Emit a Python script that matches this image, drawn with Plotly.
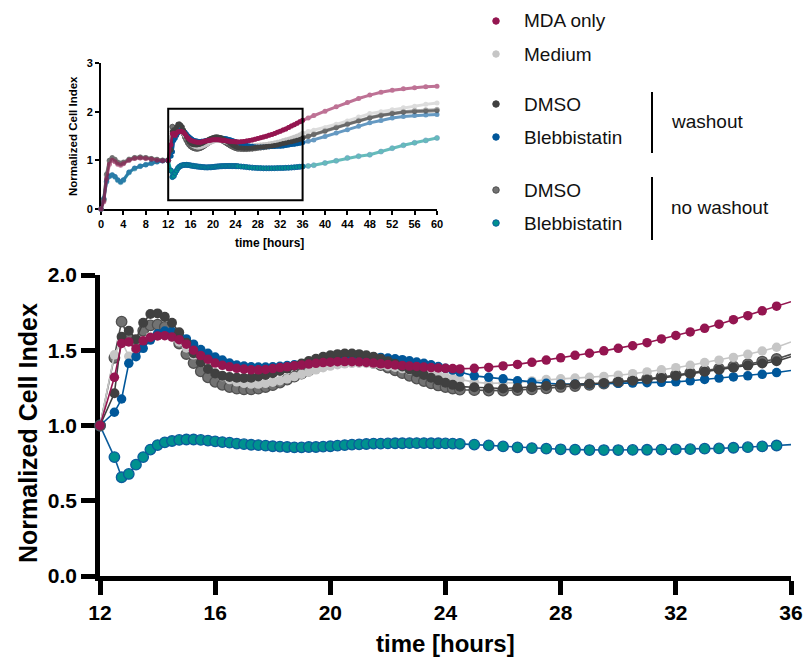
import plotly.graph_objects as go

# ---------------- data ----------------
T_EARLY = [0.0, 0.5, 1.0, 1.5, 2.0, 2.5, 3.0, 3.5, 4.0, 5.0, 6.0, 7.0, 8.0, 9.0, 10.0, 11.0]
T_MAIN = [12.0,
          12.5, 12.75, 13.0, 13.25, 13.5, 13.75, 14.0, 14.25, 14.5, 14.75,
          15.0, 15.25, 15.5, 15.75, 16.0, 16.25, 16.5, 16.75,
          17.0, 17.25, 17.5, 17.75, 18.0, 18.25, 18.5, 18.75,
          19.0, 19.25, 19.5, 19.75, 20.0, 20.25, 20.5, 20.75,
          21.0, 21.25, 21.5, 21.75, 22.0, 22.25, 22.5, 22.75,
          23.0, 23.25, 23.5, 23.75, 24.0, 24.25, 24.5,
          25.0, 25.5, 26.0, 26.5, 27.0, 27.5, 28.0, 28.5, 29.0, 29.5, 30.0,
          30.5, 31.0, 31.5, 32.0, 32.5, 33.0, 33.5, 34.0, 34.5, 35.0, 35.5,
          36.0]
T_LATE = [37.0, 38.0, 40.0, 42.0, 44.0, 46.0, 48.0, 50.0, 52.0, 54.0, 56.0, 58.0, 60.0]

# MDA only
MDA_EARLY = [0.0, 0.15, 0.62, 0.92, 1.0, 0.97, 0.92, 0.9, 0.93, 1.0, 1.04, 1.05, 1.04, 1.02, 1.0, 0.99]
MDA_MAIN = [1.00,
            1.32, 1.545, 1.555, 1.51, 1.563, 1.585, 1.595, 1.597, 1.588, 1.57,
            1.54, 1.50, 1.465, 1.44, 1.415, 1.40, 1.39, 1.38,
            1.375, 1.37, 1.37, 1.372, 1.378, 1.385, 1.39, 1.397,
            1.402, 1.408, 1.413, 1.418, 1.421, 1.424, 1.425, 1.424,
            1.422, 1.419, 1.415, 1.41, 1.406, 1.402, 1.398, 1.395,
            1.392, 1.388, 1.385, 1.382, 1.38, 1.378, 1.376,
            1.38, 1.386, 1.396, 1.406, 1.42, 1.435, 1.45, 1.466, 1.48, 1.496, 1.513,
            1.53, 1.55, 1.575, 1.598, 1.622, 1.646, 1.673, 1.703, 1.73, 1.762, 1.793,
            1.823]
MDA_LATE = [1.87, 1.92, 2.01, 2.1, 2.19, 2.27, 2.34, 2.4, 2.44, 2.47, 2.49, 2.51, 2.52]

# Medium
MED_EARLY = [0.0, 0.2, 0.7, 0.98, 1.05, 1.02, 0.97, 0.95, 0.97, 1.03, 1.06, 1.07, 1.06, 1.04, 1.02, 1.0]
MED_MAIN = [1.00,
            1.47, 1.56, 1.46, 1.50, 1.56, 1.59, 1.60, 1.60, 1.585, 1.555,
            1.515, 1.47, 1.425, 1.385, 1.35, 1.325, 1.305, 1.29,
            1.28, 1.275, 1.275, 1.28, 1.288, 1.298, 1.31, 1.325,
            1.34, 1.355, 1.37, 1.384, 1.395, 1.404, 1.41, 1.413,
            1.414, 1.412, 1.408, 1.402, 1.395, 1.387, 1.378, 1.369,
            1.36, 1.351, 1.342, 1.333, 1.323, 1.313, 1.303,
            1.288, 1.28, 1.28, 1.285, 1.296, 1.305, 1.31, 1.315, 1.32, 1.326, 1.334,
            1.344, 1.356, 1.37, 1.384, 1.40, 1.418, 1.434, 1.452, 1.473, 1.495, 1.52,
            1.555]
MED_LATE = [1.59, 1.62, 1.67, 1.74, 1.81, 1.89, 1.96, 2.0, 2.04, 2.08, 2.11, 2.15, 2.18]

# DMSO washout
DW_EARLY = [0.0, 0.2, 0.72, 1.0, 1.06, 1.02, 0.96, 0.94, 0.96, 1.02, 1.06, 1.07, 1.06, 1.04, 1.02, 1.0]
DW_MAIN = [1.00,
           1.214, 1.59, 1.63, 1.573, 1.683, 1.741, 1.745, 1.723, 1.683, 1.62,
           1.55, 1.48, 1.42, 1.375, 1.345, 1.33, 1.322, 1.318,
           1.316, 1.318, 1.326, 1.336, 1.348, 1.362, 1.378, 1.395,
           1.412, 1.428, 1.443, 1.456, 1.466, 1.474, 1.478, 1.478,
           1.474, 1.467, 1.457, 1.443, 1.427, 1.41, 1.392, 1.373,
           1.354, 1.335, 1.317, 1.30, 1.284, 1.27, 1.258,
           1.254, 1.248, 1.246, 1.25, 1.254, 1.262, 1.27, 1.273, 1.277, 1.282, 1.29,
           1.297, 1.306, 1.315, 1.33, 1.344, 1.357, 1.37, 1.384, 1.398, 1.412, 1.427,
           1.457]
DW_LATE = [1.49, 1.53, 1.6, 1.67, 1.74, 1.81, 1.87, 1.92, 1.96, 1.99, 2.0, 2.01, 2.02]

# Blebbistatin washout
BW_EARLY = [0.0, 0.22, 0.58, 0.68, 0.7, 0.67, 0.6, 0.56, 0.6, 0.76, 0.84, 0.88, 0.91, 0.94, 0.97, 0.99]
BW_MAIN = [1.00,
           1.088, 1.176, 1.413, 1.457, 1.513, 1.568, 1.61, 1.628, 1.625, 1.605,
           1.575, 1.54, 1.505, 1.48, 1.455, 1.435, 1.415, 1.402,
           1.395, 1.39, 1.388, 1.388, 1.39, 1.393, 1.398, 1.403,
           1.41, 1.417, 1.424, 1.43, 1.437, 1.443, 1.448, 1.452,
           1.455, 1.456, 1.455, 1.452, 1.448, 1.443, 1.437, 1.43,
           1.422, 1.413, 1.403, 1.392, 1.38, 1.368, 1.355,
           1.33, 1.32, 1.31, 1.297, 1.287, 1.28, 1.276, 1.275, 1.275, 1.278, 1.28,
           1.282, 1.284, 1.287, 1.29, 1.297, 1.306, 1.315, 1.323, 1.33, 1.34, 1.352,
           1.366]
BW_LATE = [1.39, 1.42, 1.49, 1.56, 1.63, 1.7, 1.77, 1.82, 1.87, 1.9, 1.92, 1.93, 1.94]

# DMSO no washout
DN_EARLY = [0.0, 0.18, 0.7, 0.99, 1.04, 1.0, 0.95, 0.93, 0.95, 1.01, 1.05, 1.06, 1.05, 1.03, 1.01, 1.0]
DN_MAIN = [1.00,
           1.45, 1.69, 1.58, 1.55, 1.63, 1.665, 1.67, 1.655, 1.61, 1.545,
           1.475, 1.415, 1.36, 1.32, 1.29, 1.27, 1.255, 1.245,
           1.24, 1.24, 1.245, 1.255, 1.268, 1.285, 1.305, 1.325,
           1.345, 1.365, 1.385, 1.402, 1.417, 1.428, 1.434, 1.436,
           1.434, 1.427, 1.416, 1.402, 1.385, 1.367, 1.348, 1.33,
           1.312, 1.295, 1.28, 1.266, 1.255, 1.246, 1.238,
           1.235, 1.232, 1.232, 1.236, 1.24, 1.247, 1.256, 1.262, 1.27, 1.278, 1.288,
           1.298, 1.31, 1.322, 1.336, 1.35, 1.364, 1.378, 1.393, 1.408, 1.425, 1.442,
           1.473]
DN_LATE = [1.5, 1.54, 1.61, 1.68, 1.75, 1.82, 1.88, 1.93, 1.97, 2.0, 2.02, 2.03, 2.04]

# Blebbistatin no washout
BN_EARLY = [0.0, 0.2, 0.56, 0.67, 0.7, 0.66, 0.59, 0.55, 0.59, 0.75, 0.83, 0.88, 0.91, 0.94, 0.97, 0.99]
BN_MAIN = [1.00,
           0.79, 0.656, 0.678, 0.74, 0.79, 0.84, 0.87, 0.888, 0.897, 0.904,
           0.907, 0.907, 0.904, 0.90, 0.895, 0.89, 0.886, 0.88,
           0.876, 0.872, 0.87, 0.866, 0.862, 0.86, 0.857, 0.855,
           0.855, 0.857, 0.857, 0.86, 0.862, 0.866, 0.87, 0.873,
           0.875, 0.877, 0.88, 0.88, 0.881, 0.882, 0.882, 0.883,
           0.883, 0.883, 0.882, 0.882, 0.881, 0.88, 0.878,
           0.873, 0.868, 0.861, 0.855, 0.85, 0.846, 0.842, 0.84, 0.837, 0.837, 0.837,
           0.838, 0.839, 0.84, 0.842, 0.843, 0.846, 0.848, 0.852, 0.856, 0.861, 0.867,
           0.873]
BN_LATE = [0.885, 0.9, 0.945, 0.99, 1.05, 1.085, 1.115, 1.18, 1.25, 1.31, 1.36, 1.41, 1.46]

X_TICKS_MAIN = [12, 16, 20, 24, 28, 32, 36]
Y_TICKS_MAIN = [0.0, 0.5, 1.0, 1.5, 2.0]
X_TICKS_INSET = list(range(0, 61, 4))
Y_TICKS_INSET = [0, 1, 2, 3]

# ---------------- styles ----------------
W, H = 803, 659
FONT = "Liberation Sans, Arial, Helvetica, sans-serif"

# draw order bottom -> top
series = [
    dict(name="Blebbistatin (no washout)", early=BN_EARLY, main=BN_MAIN, late=BN_LATE,
         fill="#00918F", line="#0B5C9C", outline="#0B5C9C", size=10.5, olw=1.3),
    dict(name="DMSO (no washout)", early=DN_EARLY, main=DN_MAIN, late=DN_LATE,
         fill="#727272", line="#505050", outline="#505050", size=10.5, olw=1.3),
    dict(name="Medium", early=MED_EARLY, main=MED_MAIN, late=MED_LATE,
         fill="#C6C6C6", line="#C6C6C6", outline="#C6C6C6", size=9.5, olw=0),
    dict(name="Blebbistatin (washout)", early=BW_EARLY, main=BW_MAIN, late=BW_LATE,
         fill="#00579A", line="#00579A", outline="#00579A", size=9.5, olw=0),
    dict(name="DMSO (washout)", early=DW_EARLY, main=DW_MAIN, late=DW_LATE,
         fill="#404040", line="#404040", outline="#404040", size=10, olw=0),
    dict(name="MDA only", early=MDA_EARLY, main=MDA_MAIN, late=MDA_LATE,
         fill="#941550", line="#941550", outline="#941550", size=9.5, olw=0),
]

fig = go.Figure()

# main chart
for s in series:
    assert len(s["main"]) == len(T_MAIN)
    sizes = [s["size"] if t <= 35.6 else 0 for t in T_MAIN]
    fig.add_trace(go.Scatter(
        x=T_MAIN, y=s["main"], mode="lines+markers", name=s["name"],
        line=dict(color=s["line"], width=1.6),
        marker=dict(size=sizes, color=s["fill"], opacity=1,
                    line=dict(color=s["outline"], width=s["olw"])),
        cliponaxis=False, xaxis="x", yaxis="y", showlegend=False, hoverinfo="skip"))

# inset: faded full curve, then highlighted 12-36 portion
for s in series:
    xs = T_EARLY + T_MAIN + T_LATE
    ys = s["early"] + s["main"] + s["late"]
    fig.add_trace(go.Scatter(
        x=xs, y=ys, mode="lines+markers", opacity=0.6,
        line=dict(color=s["fill"], width=3),
        marker=dict(size=5, color=s["fill"], opacity=1,
                    line=dict(color=s["outline"], width=0.6 if s["olw"] else 0)),
        cliponaxis=False, xaxis="x2", yaxis="y2", showlegend=False, hoverinfo="skip"))
for s in series:
    fig.add_trace(go.Scatter(
        x=T_MAIN, y=s["main"], mode="lines+markers",
        line=dict(color=s["fill"], width=2.5),
        marker=dict(size=5, color=s["fill"], opacity=1,
                    line=dict(color=s["outline"], width=0.8 if s["olw"] else 0)),
        cliponaxis=False, xaxis="x2", yaxis="y2", showlegend=False, hoverinfo="skip"))

# custom legend (pixel-space helper axes)
LEG_LABELS = ["MDA only", "Medium", "DMSO", "Blebbistatin", "DMSO", "Blebbistatin"]
LEG_Y = [21, 54, 104, 137, 190, 223]
LEG_FILL = ["#941550", "#C6C6C6", "#404040", "#00579A", "#727272", "#00918F"]
LEG_LINE = ["#941550", "#C6C6C6", "#404040", "#00579A", "#505050", "#0B5C9C"]
fig.add_trace(go.Scatter(
    x=[496] * 6, y=LEG_Y, mode="markers",
    marker=dict(size=6.5, color=LEG_FILL, opacity=1, line=dict(color=LEG_LINE, width=1)),
    xaxis="x3", yaxis="y3", showlegend=False, hoverinfo="skip"))

annotations = []
for lab, yy in zip(LEG_LABELS, LEG_Y):
    annotations.append(dict(x=522 / W, y=1 - yy / H, xref="paper", yref="paper",
                            text=lab, showarrow=False, xanchor="left", yanchor="middle",
                            font=dict(family=FONT, size=19, color="#111111")))
annotations.append(dict(x=669 / W, y=1 - 121 / H, xref="paper", yref="paper", text="washout",
                        showarrow=False, xanchor="left", yanchor="middle",
                        font=dict(family=FONT, size=19, color="#111111")))
annotations.append(dict(x=669 / W, y=1 - 207 / H, xref="paper", yref="paper", text="no washout",
                        showarrow=False, xanchor="left", yanchor="middle",
                        font=dict(family=FONT, size=19, color="#111111")))
# axis titles
annotations.append(dict(x=445 / W, y=1 - 643 / H, xref="paper", yref="paper", text="time [hours]",
                        showarrow=False, xanchor="center", yanchor="middle",
                        font=dict(family=FONT, size=24, color="black", weight="bold")))
annotations.append(dict(x=28 / W, y=1 - 433 / H, xref="paper", yref="paper",
                        text="Normalized Cell Index", textangle=-90,
                        showarrow=False, xanchor="center", yanchor="middle",
                        font=dict(family=FONT, size=25, color="black", weight="bold")))
annotations.append(dict(x=269 / W, y=1 - 243 / H, xref="paper", yref="paper", text="time [hours]",
                        showarrow=False, xanchor="center", yanchor="middle",
                        font=dict(family=FONT, size=12, color="black", weight="bold")))
annotations.append(dict(x=73 / W, y=1 - 136 / H, xref="paper", yref="paper",
                        text="Normalized Cell Index", textangle=-90,
                        showarrow=False, xanchor="center", yanchor="middle",
                        font=dict(family=FONT, size=11.5, color="black", weight="bold")))

shapes = [
    dict(type="rect", xref="x2", yref="y2", x0=12, x1=36, y0=0.18, y1=2.06,
         line=dict(color="black", width=2)),
    dict(type="line", xref="x3", yref="y3", x0=652, x1=652, y0=92, y1=153,
         line=dict(color="black", width=2)),
    dict(type="line", xref="x3", yref="y3", x0=652, x1=652, y0=177, y1=240,
         line=dict(color="black", width=2)),
]

main_ax = dict(showline=True, linecolor="black", linewidth=4.5, ticks="outside",
               ticklen=14, tickwidth=4.5, tickcolor="black", showgrid=False, zeroline=False,
               layer="below traces", automargin=False,
               tickfont=dict(family=FONT, size=21, color="black", weight="bold"))
inset_ax = dict(showline=True, linecolor="black", linewidth=2, ticks="outside",
                ticklen=4, tickwidth=2, tickcolor="black", showgrid=False, zeroline=False,
                layer="below traces", automargin=False,
                tickfont=dict(family=FONT, size=11, color="black", weight="bold"))

fig.update_layout(
    template="none",
    width=W, height=H, margin=dict(l=0, r=0, t=0, b=0, pad=0), autosize=False,
    paper_bgcolor="white", plot_bgcolor="rgba(0,0,0,0)", showlegend=False,
    xaxis=dict(main_ax, domain=[100 / W, 791 / W], range=[12, 36],
               tickvals=X_TICKS_MAIN, anchor="y"),
    yaxis=dict(main_ax, domain=[1 - 576 / H, 1 - 275 / H], range=[0, 2],
               tickvals=Y_TICKS_MAIN, tickformat=".1f", anchor="x"),
    xaxis2=dict(inset_ax, domain=[101 / W, 437 / W], range=[0, 60],
                tickvals=X_TICKS_INSET, anchor="y2"),
    yaxis2=dict(inset_ax, domain=[1 - 209 / H, 1 - 63 / H], range=[0, 3],
                tickvals=Y_TICKS_INSET, anchor="x2"),
    xaxis3=dict(domain=[0, 1], range=[0, W], visible=False, anchor="y3", automargin=False),
    yaxis3=dict(domain=[0, 1], range=[H, 0], visible=False, anchor="x3", automargin=False),
    annotations=annotations, shapes=shapes,
)

fig.write_html("out.html", post_script="document.body.style.margin='0px';",
               config={"displayModeBar": False})
